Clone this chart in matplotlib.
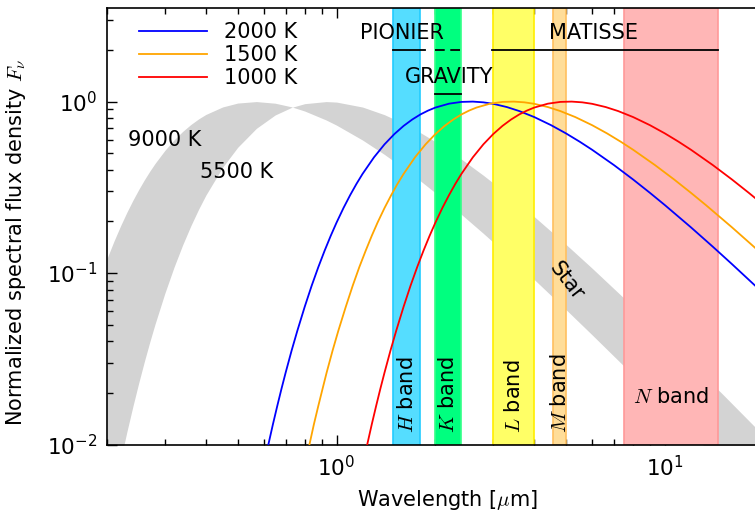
import matplotlib
matplotlib.use('Agg')
import matplotlib.pyplot as plt

plt.rcParams['mathtext.fontset'] = 'cm'
plt.rcParams['lines.scale_dashes'] = False

# star (gray band): normalized F_nu of 9000 K and 5500 K
star_wl = [0.2, 0.21, 0.22, 0.23, 0.24, 0.25, 0.26, 0.27, 0.28, 0.30, 0.32, 0.34, 0.36, 0.38,
           0.4, 0.45, 0.5, 0.57, 0.65, 0.73, 0.8, 0.93, 1.0, 1.2, 1.4, 1.6, 1.8, 2.0, 2.4,
           2.8, 3.2, 4, 5, 6, 8, 10, 12, 15, 19]
star_9000 = [0.1215, 0.1535, 0.1887, 0.2266, 0.2665, 0.3078, 0.3502, 0.3929, 0.4355, 0.5189,
             0.5977, 0.6701, 0.7350, 0.7921, 0.8414, 0.9306, 0.9803, 1.0, 0.9785, 0.9315,
             0.8806, 0.7807, 0.7285, 0.5965, 0.4913, 0.4092, 0.3447, 0.2936, 0.2197, 0.1702,
             0.1354, 0.0916, 0.0611, 0.0436, 0.0254, 0.0166, 0.0117, 0.0076, 0.0048]
star_5500 = [0.0033, 0.0053, 0.0081, 0.0119, 0.0168, 0.0230, 0.0306, 0.0397, 0.0503, 0.0762,
             0.1083, 0.1461, 0.1887, 0.2353, 0.2847, 0.4143, 0.5412, 0.6982, 0.8352, 0.9253,
             0.9723, 1.0, 0.9934, 0.9292, 0.8381, 0.7448, 0.6592, 0.5835, 0.4616, 0.3714,
             0.3040, 0.2132, 0.1466, 0.1067, 0.0636, 0.0421, 0.0299, 0.0196, 0.0124]

# 2000 K, 1500 K, 1000 K curves
wl_2000 = [0.6, 0.62, 0.64, 0.66, 0.68, 0.7, 0.73, 0.76, 0.8, 0.84, 0.88, 0.92, 0.96, 1.0,
           1.05, 1.1, 1.15, 1.2, 1.3, 1.4, 1.5, 1.6, 1.7, 1.8, 1.9, 2.0, 2.2, 2.4, 2.6, 2.8,
           3.0, 3.3, 3.6, 4.0, 4.5, 5.0, 5.5, 6.0, 7.0, 8.0, 9.0, 10, 12, 14, 16, 19]
f_2000 = [0.0075, 0.0100, 0.0131, 0.0168, 0.0212, 0.0263, 0.0354, 0.0462, 0.0636, 0.0844,
          0.1083, 0.1352, 0.1649, 0.1969, 0.2397, 0.2847, 0.3313, 0.3787, 0.4730, 0.5635,
          0.6467, 0.7213, 0.7861, 0.8414, 0.8864, 0.9229, 0.9723, 0.9956, 0.9998, 0.9899,
          0.9705, 0.9292, 0.8806, 0.8122, 0.7285, 0.6518, 0.5835, 0.5236, 0.4257, 0.3511,
          0.2936, 0.2488, 0.1847, 0.1422, 0.1127, 0.0830]

wl_1500 = [0.8, 0.827, 0.853, 0.88, 0.907, 0.933, 0.973, 1.013, 1.067, 1.12, 1.173, 1.227,
           1.28, 1.333, 1.4, 1.467, 1.533, 1.6, 1.733, 1.867, 2.0, 2.133, 2.267, 2.4, 2.533,
           2.667, 2.933, 3.2, 3.467, 3.733, 4.0, 4.4, 4.8, 5.333, 6.0, 6.667, 7.333, 8.0,
           9.333, 10.667, 12.0, 13.333, 16.0, 18.667, 21.333]
f_1500 = [0.0075, 0.0100, 0.0131, 0.0168, 0.0212, 0.0263, 0.0354, 0.0462, 0.0636, 0.0844,
          0.1083, 0.1352, 0.1649, 0.1969, 0.2397, 0.2847, 0.3313, 0.3787, 0.4730, 0.5635,
          0.6467, 0.7213, 0.7861, 0.8414, 0.8864, 0.9229, 0.9723, 0.9956, 0.9998, 0.9899,
          0.9705, 0.9292, 0.8806, 0.8122, 0.7285, 0.6518, 0.5835, 0.5236, 0.4257, 0.3511,
          0.2936, 0.2488, 0.1847, 0.1422, 0.1127]

wl_1000 = [1.2, 1.24, 1.28, 1.32, 1.36, 1.4, 1.46, 1.52, 1.6, 1.68, 1.76, 1.84, 1.92, 2.0,
           2.1, 2.2, 2.3, 2.4, 2.6, 2.8, 3.0, 3.2, 3.4, 3.6, 3.8, 4.0, 4.4, 4.8, 5.2, 5.6,
           6.0, 6.6, 7.2, 8.0, 9.0, 10, 11, 12, 14, 16, 18, 20]
f_1000 = [0.0075, 0.0100, 0.0131, 0.0168, 0.0212, 0.0263, 0.0354, 0.0462, 0.0636, 0.0844,
          0.1083, 0.1352, 0.1649, 0.1969, 0.2397, 0.2847, 0.3313, 0.3787, 0.4730, 0.5635,
          0.6467, 0.7213, 0.7861, 0.8414, 0.8864, 0.9229, 0.9723, 0.9956, 0.9998, 0.9899,
          0.9705, 0.9292, 0.8806, 0.8122, 0.7285, 0.6518, 0.5835, 0.5236, 0.4257, 0.3511,
          0.2936, 0.2488]

# photometric bands (µm)
band_names = ['$H$ band', '$K$ band', '$L$ band', '$M$ band']
band_lo = [1.49, 2.0, 3.0, 4.57]
band_hi = [1.80, 2.4, 4.0, 5.0]
band_fill = ['#55DDFF', '#00FF7F', '#FFFF66', '#FFDD99']
band_edge = ['#22CCFF', '#33FF88', '#FFEE00', '#FFC060']
n_lo, n_hi = 7.5, 14.5

fig = plt.figure(figsize=(7.55, 5.15), dpi=100)
ax = fig.add_axes([107 / 755, 70.5 / 515, 648 / 755, 436.2 / 515])

ax.fill_between(star_wl, star_9000, star_5500, color='#D3D3D3', lw=0, zorder=1)

for lo, hi, fc, ec in zip(band_lo, band_hi, band_fill, band_edge):
    ax.axvspan(lo, hi, facecolor=fc, edgecolor=ec, lw=1.2, zorder=2)
ax.axvspan(n_lo, n_hi, facecolor='#FFB6B6', edgecolor='#FF9999', lw=1.2, zorder=2)

ax.plot(wl_2000, f_2000, color='blue', lw=1.3, label='2000 K', zorder=3)
ax.plot(wl_1500, f_1500, color='orange', lw=1.3, label='1500 K', zorder=3)
ax.plot(wl_1000, f_1000, color='red', lw=1.3, label='1000 K', zorder=3)

# instruments
tr = ax.get_xaxis_transform()
y_top = (444.5 - 50) / 436.2
y_grav = (444.5 - 94.3) / 436.2
ax.plot([1.49, 1.86], [y_top, y_top], color='black', lw=1.3, transform=tr, zorder=4)
ax.plot([2.0, 2.4], [y_top, y_top], color='black', lw=1.3, dashes=[7, 4],
        transform=tr, zorder=4)
ax.plot([2.98, 14.5], [y_top, y_top], color='black', lw=1.3, transform=tr, zorder=4)
ax.plot([2.0, 2.4], [y_grav, y_grav], color='black', lw=1.3, transform=tr, zorder=4)
ax.text(1.578, (444.5 - 33) / 436.2, 'PIONIER', transform=tr, ha='center', va='center',
        fontsize=15, zorder=5)
ax.text(6.07, (444.5 - 33) / 436.2, 'MATISSE', transform=tr, ha='center', va='center',
        fontsize=15, zorder=5)
ax.text(2.20, (444.5 - 77) / 436.2, 'GRAVITY', transform=tr, ha='center', va='center',
        fontsize=15, zorder=5)

for name, lo, hi in zip(band_names, band_lo, band_hi):
    ax.text((lo * hi) ** 0.5, (444.5 - 433) / 436.2, name, transform=tr, rotation=90,
            ha='center', va='bottom', fontsize=15, zorder=5)
ax.text(10.4, (444.5 - 397) / 436.2, '$N$ band', transform=tr, ha='center', va='center',
        fontsize=15, zorder=5)

ax.text(0.30, 0.60, '9000 K', ha='center', va='center', fontsize=15, zorder=5)
ax.text(0.497, 0.39, '5500 K', ha='center', va='center', fontsize=15, zorder=5)
ax.text(5.0, 0.09, 'Star', ha='center', va='center', fontsize=15, rotation=-52, zorder=5)

ax.set_xscale('log')
ax.set_yscale('log')
ax.set_xlim(0.2, 18.8)
ax.set_ylim(0.01, 3.5)

ax.set_xlabel(r'Wavelength [$\mu$m]', fontsize=15)
ax.set_ylabel(r'Normalized spectral flux density $F_\nu$', fontsize=15)
ax.xaxis.set_label_coords(0.525, -0.099)
ax.yaxis.set_label_coords(-0.122, 0.464)

ax.tick_params(which='both', direction='in', top=True, right=False, labelsize=15.5)
ax.tick_params(which='major', length=7, width=1)
ax.tick_params(which='minor', length=4, width=1)
ax.tick_params(axis='x', which='both', pad=7.5)
ax.tick_params(axis='y', which='both', pad=7)
ax.spines['right'].set_visible(False)
for s in ['left', 'top', 'bottom']:
    ax.spines[s].set_linewidth(1.2)

ax.legend(loc='upper left', frameon=False, fontsize=15, handlelength=3.3,
          handletextpad=0.8, labelspacing=0.15, bbox_to_anchor=(0.02, 1.012))

fig.savefig('out.png', dpi=100)
